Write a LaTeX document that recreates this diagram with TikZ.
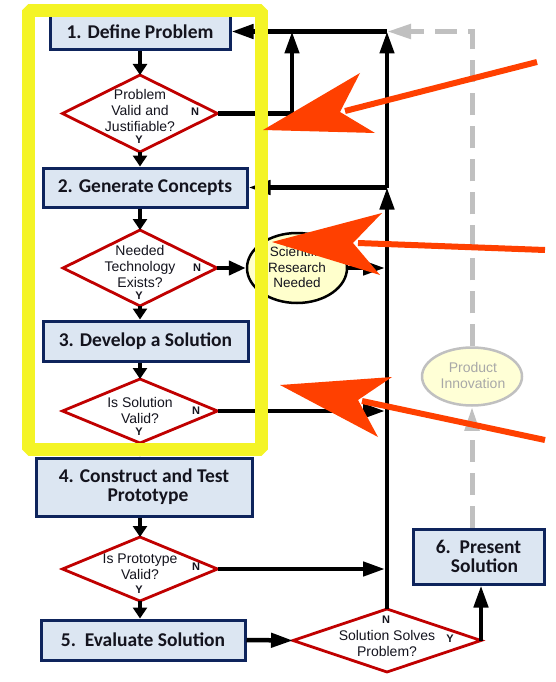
\documentclass[tikz,border=0pt]{standalone}
\usepackage{fontspec}
\setmainfont{Liberation Sans}
\newfontfamily\boxfont{Carlito}
\usetikzlibrary{arrows.meta,shapes.geometric}
\definecolor{boxfill}{RGB}{220,230,242}
\definecolor{boxline}{RGB}{14,36,92}
\definecolor{dred}{RGB}{192,0,0}
\definecolor{hl}{RGB}{244,244,38}
\definecolor{redarrow}{RGB}{255,64,0}
\definecolor{ellfill}{RGB}{255,255,204}
\definecolor{ellfillpale}{RGB}{255,255,214}
\definecolor{grayline}{RGB}{192,192,192}
\definecolor{graytext}{RGB}{168,168,168}
\definecolor{txt}{RGB}{20,20,30}
\begin{document}
\begin{tikzpicture}[x=1pt,y=-1pt,
  stepbox/.style={draw=boxline, fill=boxfill, line width=3pt, inner sep=0pt,
    font=\boxfont\bfseries\fontsize{19.5}{19}\selectfont, text=txt, align=center},
  decision/.style={diamond, draw=dred, fill=white, line width=2.8pt, inner sep=0pt, outer sep=0pt},
  dtext/.style={font=\fontsize{14}{16}\selectfont, align=center, text=txt, inner sep=0pt},
  yn/.style={font=\bfseries\fontsize{11}{12}\selectfont, text=txt, inner sep=0pt},
  conn/.style={line width=4.5pt, -{Triangle[length=22pt,width=14pt]}},
  midconn/.style={line width=4.5pt, -{Triangle[length=17pt,width=14pt]}},
  shortconn/.style={line width=4.5pt, -{Triangle[length=11pt,width=14pt]}},
  grayconn/.style={grayline, line width=5pt, dash pattern=on 22pt off 11pt, -{Triangle[length=24pt,width=14pt]}},
  redtip/.style={fill=redarrow},
  redshaft/.style={draw=redarrow, line width=6pt},
]
\useasboundingbox (0,0) rectangle (556,682);

% process boxes
\node[stepbox, minimum width=180pt, minimum height=37pt] (b1) at (140,31.5) {1. Define Problem};
\node[stepbox, minimum width=204pt, minimum height=39pt] (b2) at (145,187.5) {2. Generate Concepts};
\node[stepbox, minimum width=205pt, minimum height=40pt] (b3) at (145.5,341) {3. Develop a Solution};
\node[stepbox, minimum width=216pt, minimum height=58pt] (b4) at (144,487) {4. Construct and Test\\\hspace*{8pt}Prototype};
\node[stepbox, minimum width=204pt, minimum height=40pt] (b5) at (143,640) {5.\ \ Evaluate Solution};
\node[stepbox, minimum width=131pt, minimum height=55pt] (b6) at (478.5,556.5) {6.\ \ Present\\\hspace*{12pt}Solution};

% decisions
\node[decision, minimum width=155pt, minimum height=77pt] (d1) at (140,113.5) {};
\node[decision, minimum width=154pt, minimum height=76pt] (d2) at (140,268) {};
\node[decision, minimum width=155pt, minimum height=64pt] (d3) at (140,411) {};
\node[decision, minimum width=155pt, minimum height=64pt] (d4) at (140,569) {};
\node[decision, minimum width=188pt, minimum height=63pt] (d5) at (387,640.5) {};

\node[dtext] (d1t) at (140,110) {Problem\\Valid and\\Justifiable?};
\node[dtext] (d2t) at (140,266) {Needed\\Technology\\Exists?};
\node[dtext] (d3t) at (140,410) {Is Solution\\Valid?};
\node[dtext] (d4t) at (140,567) {Is Prototype\\Valid?};
\node[dtext] (d5t) at (387,643.5) {Solution Solves\\Problem?};

\node[yn] (d1n) at (195,112) {N};
\node[yn] (d1y) at (139,140) {Y};
\node[yn] (d2n) at (197,268) {N};
\node[yn] (d2y) at (139,296) {Y};
\node[yn] (d3n) at (196,411) {N};
\node[yn] (d3y) at (139,432) {Y};
\node[yn] (d4n) at (196,567) {N};
\node[yn] (d4y) at (139,590) {Y};
\node[yn] (d5n) at (386,620) {N};
\node[yn] (d5y) at (450,639) {Y};

% ellipses
\node[ellipse, draw=black, line width=2.5pt, fill=ellfill, minimum width=100pt, minimum height=70pt, inner sep=0pt] (sci) at (297,268) {};
\node[dtext, font=\fontsize{13.5}{15.5}\selectfont] (scit) at (297,267.5) {Scientific\\Research\\Needed};
\node[ellipse, draw=grayline, line width=2.5pt, fill=ellfillpale, minimum width=100pt, minimum height=58pt, inner sep=0pt] (pi) at (472,376.5) {};
\node[dtext, text=graytext, font=\fontsize{14}{16}\selectfont] (pit) at (473,375) {Product\\Innovation};

% junction coordinates
\coordinate (v1) at (d5.north |- b1.east);
\coordinate (v2) at (d5.north |- b2.east);
\coordinate (v3) at (d5.north |- sci.east);
\coordinate (v4) at (d5.north |- d3.east);
\coordinate (v5) at (d5.north |- d4.east);
\coordinate (j1) at (292,31.5);
\coordinate (g1) at (pi.north |- b1.east);

% main column connectors (straight down the column)
\draw[shortconn] (d1.north |- b1.south) -- (d1.north);
\draw[shortconn] (d1.south) -- (d1.south |- b2.north);
\draw[shortconn] (d2.north |- b2.south) -- (d2.north);
\draw[shortconn] (d2.south) -- (d2.south |- b3.north);
\draw[shortconn] (d3.north |- b3.south) -- (d3.north);
\draw[shortconn] (d3.south) -- (d3.south |- b4.north);
\draw[shortconn] (d4.north |- b4.south) -- (d4.north);
\draw[shortconn] (d4.south) -- (d4.south |- b5.north);

% return paths
\draw[conn] (d1.east) -| (j1);
\draw[conn] (d5.north) -- (v2);
\draw[conn] (v2) -- (v1);
\draw[conn] (v1) -- (b1.east);
\draw[conn] (v2) -- (b2.east);
\draw[midconn] (d2.east) -- (sci.west);
\draw[conn, shorten >=2pt] (sci.east) -- (v3);
\draw[conn, shorten >=2pt] (d3.east) -- (v4);
\draw[conn, shorten >=2pt] (d4.east) -- (v5);
\draw[conn] (b5.east) -- (d5.west);
\draw[conn] (d5.east) -- (d5.east |- b6.south);

% gray dashed innovation path
\draw[grayconn] (pi.south |- b6.north) -- (pi.south);
\draw[grayconn] (pi.north) -- (g1) -- (v1);

% yellow highlight frame
\draw[hl, line width=13pt, line join=bevel] (28.5,11) rectangle (261,449);

% red annotation arrows
\fill[redtip] (263,130) -- (360,73) -- (340,112) -- (375,133) -- cycle;
\draw[redshaft] (345,111) -- (537,62);
\fill[redtip] (272,242) -- (382,213) -- (353,243) -- (380,275) -- cycle;
\draw[redshaft] (358,243) -- (545,250);
\fill[redtip] (280,385) -- (392,377) -- (358,400) -- (378,437) -- cycle;
\draw[redshaft] (362,401) -- (545,440);
\end{tikzpicture}
\end{document}
